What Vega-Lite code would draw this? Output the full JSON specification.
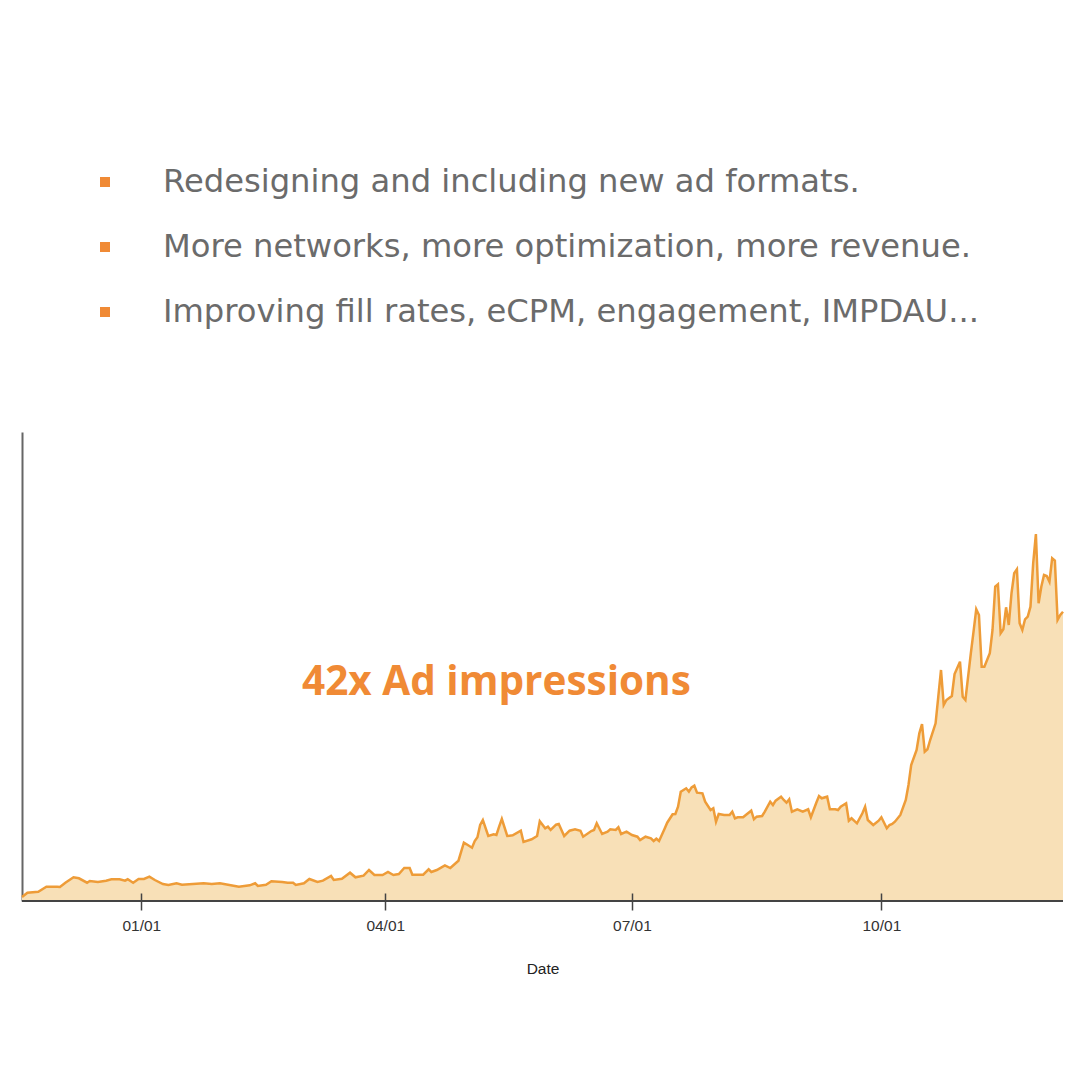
{
  "$schema": "https://vega.github.io/schema/vega-lite/v6.json",
  "padding": {"left": 17, "top": 0, "right": 17, "bottom": 0},
  "spacing": 20,
  "background": "white",
  "config": {"view": {"stroke": null}},
  "datasets": {
    "bullets": [
      {"line": 1, "label": "Redesigning and including new ad formats."},
      {"line": 2, "label": "More networks, more optimization, more revenue."},
      {"line": 3, "label": "Improving fill rates, eCPM, engagement, IMPDAU..."}
    ],
    "notes": [
      {"date": "2018-05-12", "value": 218, "label": "42x Ad impressions"}
    ],
    "impressions": [
      {"date": "2017-11-18", "value": 4},
      {"date": "2017-11-20", "value": 8.3},
      {"date": "2017-11-24", "value": 9.3},
      {"date": "2017-11-27", "value": 14.3},
      {"date": "2017-12-01", "value": 14.3},
      {"date": "2017-12-02", "value": 14},
      {"date": "2017-12-04", "value": 18.3},
      {"date": "2017-12-07", "value": 23.7},
      {"date": "2017-12-09", "value": 22.7},
      {"date": "2017-12-12", "value": 18.3},
      {"date": "2017-12-13", "value": 20},
      {"date": "2017-12-16", "value": 19},
      {"date": "2017-12-19", "value": 20.3},
      {"date": "2017-12-21", "value": 21.7},
      {"date": "2017-12-24", "value": 21.7},
      {"date": "2017-12-26", "value": 20.3},
      {"date": "2017-12-27", "value": 21.7},
      {"date": "2017-12-29", "value": 18.3},
      {"date": "2017-12-31", "value": 22},
      {"date": "2018-01-02", "value": 22},
      {"date": "2018-01-04", "value": 24.3},
      {"date": "2018-01-06", "value": 21},
      {"date": "2018-01-09", "value": 17},
      {"date": "2018-01-11", "value": 16},
      {"date": "2018-01-14", "value": 17.7},
      {"date": "2018-01-16", "value": 16.3},
      {"date": "2018-01-20", "value": 17},
      {"date": "2018-01-24", "value": 17.7},
      {"date": "2018-01-27", "value": 17},
      {"date": "2018-01-30", "value": 17.7},
      {"date": "2018-02-02", "value": 16.3},
      {"date": "2018-02-06", "value": 14.3},
      {"date": "2018-02-10", "value": 15.7},
      {"date": "2018-02-12", "value": 17.7},
      {"date": "2018-02-13", "value": 15},
      {"date": "2018-02-16", "value": 16.3},
      {"date": "2018-02-18", "value": 19.7},
      {"date": "2018-02-22", "value": 19},
      {"date": "2018-02-24", "value": 18.3},
      {"date": "2018-02-26", "value": 18.3},
      {"date": "2018-02-27", "value": 16},
      {"date": "2018-03-02", "value": 17.7},
      {"date": "2018-03-04", "value": 22},
      {"date": "2018-03-07", "value": 19},
      {"date": "2018-03-09", "value": 20.3},
      {"date": "2018-03-12", "value": 25},
      {"date": "2018-03-13", "value": 21},
      {"date": "2018-03-16", "value": 22.3},
      {"date": "2018-03-19", "value": 28.3},
      {"date": "2018-03-21", "value": 23.7},
      {"date": "2018-03-24", "value": 25.3},
      {"date": "2018-03-26", "value": 31},
      {"date": "2018-03-28", "value": 26},
      {"date": "2018-03-31", "value": 26},
      {"date": "2018-04-02", "value": 29},
      {"date": "2018-04-04", "value": 26},
      {"date": "2018-04-06", "value": 27},
      {"date": "2018-04-08", "value": 33},
      {"date": "2018-04-10", "value": 33},
      {"date": "2018-04-11", "value": 26.3},
      {"date": "2018-04-15", "value": 26.3},
      {"date": "2018-04-17", "value": 31.7},
      {"date": "2018-04-18", "value": 29},
      {"date": "2018-04-20", "value": 31},
      {"date": "2018-04-23", "value": 35.7},
      {"date": "2018-04-25", "value": 33},
      {"date": "2018-04-28", "value": 40.3},
      {"date": "2018-04-29", "value": 49.3},
      {"date": "2018-04-30", "value": 58.3},
      {"date": "2018-05-01", "value": 56.7},
      {"date": "2018-05-03", "value": 53.3},
      {"date": "2018-05-04", "value": 60},
      {"date": "2018-05-05", "value": 63.7},
      {"date": "2018-05-06", "value": 76},
      {"date": "2018-05-07", "value": 81},
      {"date": "2018-05-09", "value": 65},
      {"date": "2018-05-11", "value": 66.7},
      {"date": "2018-05-12", "value": 66},
      {"date": "2018-05-13", "value": 74.3},
      {"date": "2018-05-14", "value": 82},
      {"date": "2018-05-16", "value": 65},
      {"date": "2018-05-18", "value": 65.7},
      {"date": "2018-05-21", "value": 70.3},
      {"date": "2018-05-22", "value": 59},
      {"date": "2018-05-25", "value": 61.7},
      {"date": "2018-05-27", "value": 65},
      {"date": "2018-05-28", "value": 79.7},
      {"date": "2018-05-30", "value": 72.7},
      {"date": "2018-05-31", "value": 74.3},
      {"date": "2018-06-01", "value": 71},
      {"date": "2018-06-03", "value": 76.3},
      {"date": "2018-06-04", "value": 77},
      {"date": "2018-06-06", "value": 65},
      {"date": "2018-06-08", "value": 70.3},
      {"date": "2018-06-10", "value": 71.7},
      {"date": "2018-06-12", "value": 70.3},
      {"date": "2018-06-13", "value": 64.3},
      {"date": "2018-06-16", "value": 70},
      {"date": "2018-06-17", "value": 71},
      {"date": "2018-06-18", "value": 77.7},
      {"date": "2018-06-20", "value": 67},
      {"date": "2018-06-22", "value": 69.3},
      {"date": "2018-06-23", "value": 71.7},
      {"date": "2018-06-25", "value": 71},
      {"date": "2018-06-26", "value": 73.7},
      {"date": "2018-06-27", "value": 67},
      {"date": "2018-06-29", "value": 69.3},
      {"date": "2018-07-01", "value": 66},
      {"date": "2018-07-03", "value": 64.3},
      {"date": "2018-07-04", "value": 61},
      {"date": "2018-07-06", "value": 64.3},
      {"date": "2018-07-08", "value": 62.7},
      {"date": "2018-07-09", "value": 60},
      {"date": "2018-07-10", "value": 62.3},
      {"date": "2018-07-11", "value": 60},
      {"date": "2018-07-13", "value": 72},
      {"date": "2018-07-14", "value": 78.3},
      {"date": "2018-07-16", "value": 86.7},
      {"date": "2018-07-17", "value": 87},
      {"date": "2018-07-18", "value": 94.3},
      {"date": "2018-07-19", "value": 109.3},
      {"date": "2018-07-21", "value": 112.7},
      {"date": "2018-07-22", "value": 109.3},
      {"date": "2018-07-23", "value": 113.7},
      {"date": "2018-07-24", "value": 115.3},
      {"date": "2018-07-25", "value": 108.3},
      {"date": "2018-07-27", "value": 107.7},
      {"date": "2018-07-28", "value": 99.3},
      {"date": "2018-07-30", "value": 91},
      {"date": "2018-07-31", "value": 92.7},
      {"date": "2018-08-01", "value": 79.3},
      {"date": "2018-08-02", "value": 87},
      {"date": "2018-08-04", "value": 86},
      {"date": "2018-08-06", "value": 86},
      {"date": "2018-08-07", "value": 89.3},
      {"date": "2018-08-08", "value": 82.7},
      {"date": "2018-08-09", "value": 83.7},
      {"date": "2018-08-11", "value": 83.7},
      {"date": "2018-08-12", "value": 86},
      {"date": "2018-08-14", "value": 90.3},
      {"date": "2018-08-15", "value": 81.7},
      {"date": "2018-08-16", "value": 84.3},
      {"date": "2018-08-18", "value": 85},
      {"date": "2018-08-19", "value": 89.3},
      {"date": "2018-08-21", "value": 99.3},
      {"date": "2018-08-22", "value": 96},
      {"date": "2018-08-23", "value": 100.3},
      {"date": "2018-08-25", "value": 104.3},
      {"date": "2018-08-26", "value": 101},
      {"date": "2018-08-27", "value": 98.3},
      {"date": "2018-08-28", "value": 101.7},
      {"date": "2018-08-29", "value": 89.3},
      {"date": "2018-08-31", "value": 91.7},
      {"date": "2018-09-02", "value": 89.3},
      {"date": "2018-09-04", "value": 91.7},
      {"date": "2018-09-05", "value": 83.7},
      {"date": "2018-09-07", "value": 98.3},
      {"date": "2018-09-08", "value": 105},
      {"date": "2018-09-09", "value": 102.7},
      {"date": "2018-09-11", "value": 104.3},
      {"date": "2018-09-12", "value": 91.7},
      {"date": "2018-09-14", "value": 91.7},
      {"date": "2018-09-15", "value": 91},
      {"date": "2018-09-16", "value": 94.3},
      {"date": "2018-09-18", "value": 97.7},
      {"date": "2018-09-19", "value": 80.3},
      {"date": "2018-09-20", "value": 82.7},
      {"date": "2018-09-22", "value": 77.7},
      {"date": "2018-09-24", "value": 87.7},
      {"date": "2018-09-25", "value": 94.3},
      {"date": "2018-09-26", "value": 81},
      {"date": "2018-09-28", "value": 76},
      {"date": "2018-09-30", "value": 80.3},
      {"date": "2018-10-01", "value": 83.7},
      {"date": "2018-10-03", "value": 72.7},
      {"date": "2018-10-04", "value": 76},
      {"date": "2018-10-05", "value": 77},
      {"date": "2018-10-06", "value": 79.3},
      {"date": "2018-10-08", "value": 86},
      {"date": "2018-10-10", "value": 101},
      {"date": "2018-10-11", "value": 116},
      {"date": "2018-10-12", "value": 136},
      {"date": "2018-10-14", "value": 151},
      {"date": "2018-10-15", "value": 167.7},
      {"date": "2018-10-16", "value": 177},
      {"date": "2018-10-17", "value": 149.3},
      {"date": "2018-10-18", "value": 151.7},
      {"date": "2018-10-19", "value": 161},
      {"date": "2018-10-21", "value": 177.7},
      {"date": "2018-10-22", "value": 204.3},
      {"date": "2018-10-23", "value": 231},
      {"date": "2018-10-24", "value": 196},
      {"date": "2018-10-25", "value": 201},
      {"date": "2018-10-27", "value": 205},
      {"date": "2018-10-28", "value": 227},
      {"date": "2018-10-30", "value": 239.3},
      {"date": "2018-10-31", "value": 204.3},
      {"date": "2018-11-01", "value": 201},
      {"date": "2018-11-03", "value": 247.7},
      {"date": "2018-11-04", "value": 269.3},
      {"date": "2018-11-05", "value": 291.7},
      {"date": "2018-11-06", "value": 286},
      {"date": "2018-11-07", "value": 234.3},
      {"date": "2018-11-08", "value": 234.3},
      {"date": "2018-11-10", "value": 247.7},
      {"date": "2018-11-11", "value": 271},
      {"date": "2018-11-12", "value": 314.3},
      {"date": "2018-11-13", "value": 316.7},
      {"date": "2018-11-14", "value": 267.7},
      {"date": "2018-11-15", "value": 271.7},
      {"date": "2018-11-16", "value": 293.7},
      {"date": "2018-11-17", "value": 276},
      {"date": "2018-11-18", "value": 307.7},
      {"date": "2018-11-19", "value": 327.7},
      {"date": "2018-11-20", "value": 331.7},
      {"date": "2018-11-21", "value": 277.7},
      {"date": "2018-11-22", "value": 271},
      {"date": "2018-11-23", "value": 281.7},
      {"date": "2018-11-24", "value": 284.3},
      {"date": "2018-11-25", "value": 294.3},
      {"date": "2018-11-26", "value": 337.7},
      {"date": "2018-11-27", "value": 367},
      {"date": "2018-11-28", "value": 297.7},
      {"date": "2018-11-29", "value": 314.3},
      {"date": "2018-11-30", "value": 326},
      {"date": "2018-12-01", "value": 325},
      {"date": "2018-12-02", "value": 319.3},
      {"date": "2018-12-03", "value": 342.7},
      {"date": "2018-12-04", "value": 340.3},
      {"date": "2018-12-05", "value": 281},
      {"date": "2018-12-06", "value": 286},
      {"date": "2018-12-07", "value": 289.3}
    ]
  },
  "vconcat": [
    {
      "width": 1041,
      "height": 412,
      "data": {"name": "bullets"},
      "layer": [
        {
          "mark": {"type": "point", "shape": "square", "filled": true, "size": 100, "color": "#F08A35", "opacity": 1},
          "encoding": {
            "x": {"datum": "bullet", "type": "nominal", "scale": {"type": "point", "domain": ["bullet", "text"], "range": [83, 141], "padding": 0}, "axis": null},
            "y": {"field": "line", "type": "ordinal", "scale": {"type": "point", "domain": [1, 2, 3], "range": [182, 312], "padding": 0}, "axis": null}
          }
        },
        {
          "mark": {"type": "text", "align": "left", "baseline": "middle", "font": "DejaVu Sans", "fontSize": 32.2, "color": "#6b6b6b"},
          "encoding": {
            "x": {"datum": "text", "type": "nominal", "axis": null},
            "y": {"field": "line", "type": "ordinal", "axis": null},
            "text": {"field": "label"}
          }
        }
      ]
    },
    {
      "width": 1041,
      "height": 469,
      "layer": [
        {
          "data": {"name": "impressions"},
          "mark": {"type": "area", "color": "#F8E0B7", "opacity": 1, "line": false},
          "encoding": {
            "x": {
              "field": "date", "type": "temporal",
              "scale": {"type": "utc", "domain": [{"year": 2017, "month": 11, "date": 18, "utc": true}, {"year": 2018, "month": 12, "date": 7, "utc": true}]},
              "axis": {"orient": "bottom", "title": "Date", "format": "%m/%d", "tickCount": {"interval": "month", "step": 3}, "grid": false, "domain": false, "offset": -8, "zindex": 1, "tickColor": "#444", "tickWidth": 1.5, "tickSize": 17, "labelFont": "Liberation Sans", "labelFontSize": 15.5, "labelColor": "#333", "labelPadding": 8, "titleFont": "Liberation Sans", "titleFontSize": 15.5, "titleFontWeight": "normal", "titleColor": "#222", "titlePadding": 28}
            },
            "y": {
              "field": "value", "type": "quantitative",
              "scale": {"domain": [0, 469], "nice": false},
              "axis": {"title": null, "labels": false, "ticks": false, "grid": false, "domainColor": "#666", "domainWidth": 2}
            }
          }
        },
        {
          "data": {"name": "impressions"},
          "mark": {"type": "line", "color": "#EE9C38", "strokeWidth": 2.5},
          "encoding": {
            "x": {"field": "date", "type": "temporal", "axis": null},
            "y": {"field": "value", "type": "quantitative", "axis": null}
          }
        },
        {
          "data": {"name": "notes"},
          "mark": {"type": "rule", "color": "#444", "strokeWidth": 2},
          "encoding": {
            "y": {"datum": 0, "type": "quantitative", "axis": null}
          }
        },
        {
          "data": {"name": "notes"},
          "mark": {"type": "text", "align": "center", "baseline": "middle", "font": "Open Sans", "fontWeight": 700, "fontSize": 40.5, "color": "#F08A35"},
          "encoding": {
            "x": {"field": "date", "type": "temporal", "axis": null},
            "y": {"field": "value", "type": "quantitative", "axis": null},
            "text": {"field": "label"}
          }
        }
      ],
      "resolve": {"axis": {"x": "independent", "y": "independent"}}
    }
  ]
}
